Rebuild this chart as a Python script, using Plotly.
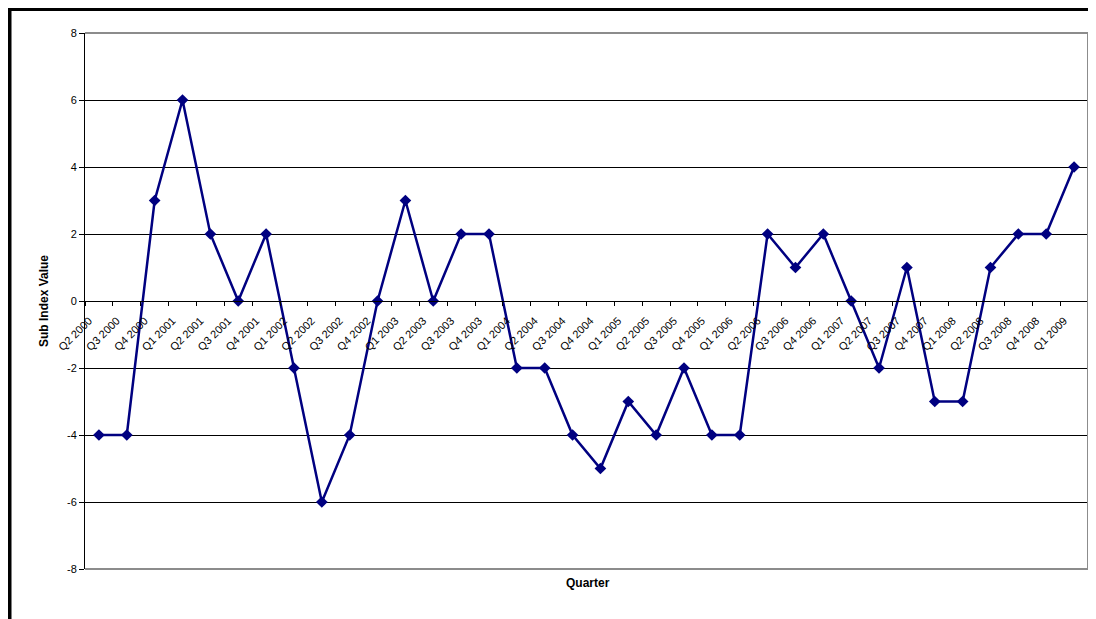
import plotly.graph_objects as go

quarters = ["Q2 2000", "Q3 2000", "Q4 2000", "Q1 2001", "Q2 2001", "Q3 2001", "Q4 2001",
            "Q1 2002", "Q2 2002", "Q3 2002", "Q4 2002", "Q1 2003", "Q2 2003", "Q3 2003",
            "Q4 2003", "Q1 2004", "Q2 2004", "Q3 2004", "Q4 2004", "Q1 2005", "Q2 2005",
            "Q3 2005", "Q4 2005", "Q1 2006", "Q2 2006", "Q3 2006", "Q4 2006", "Q1 2007",
            "Q2 2007", "Q3 2007", "Q4 2007", "Q1 2008", "Q2 2008", "Q3 2008", "Q4 2008",
            "Q1 2009"]
values = [-4, -4, 3, 6, 2, 0, 2, -2, -6, -4, 0, 3, 0, 2, 2, -2, -2, -4, -5, -3, -4,
          -2, -4, -4, 2, 1, 2, 0, -2, 1, -3, -3, 1, 2, 2, 4]
y_ticks = [-8, -6, -4, -2, 0, 2, 4, 6, 8]
y_ticktext = [str(v) for v in y_ticks]

OFF = 8  # page body margin
W, H = 1096 - OFF, 619 - OFF
L, T = 85 - OFF, 33 - OFF
R = W - (1088 - OFF)
B = H - (569 - OFF)
pw, ph = W - L - R, H - T - B

def px_x(p):
    return (p - OFF - L) / pw

def px_y(p):
    return (H - B - (p - OFF)) / ph

fig = go.Figure()
fig.add_trace(go.Scatter(
    x=quarters, y=values, mode="lines+markers",
    line=dict(color="#000080", width=2.5),
    marker=dict(symbol="diamond", size=9, color="#000080"),
    showlegend=False, cliponaxis=False,
))

fig.update_layout(
    width=W, height=H,
    margin=dict(l=L, r=R, t=T, b=B, autoexpand=False),
    paper_bgcolor="white", plot_bgcolor="white",
    font=dict(family="Liberation Sans, Arial", size=11, color="black"),
    xaxis=dict(
        type="category", categoryorder="array", categoryarray=quarters,
        range=[-0.5, len(quarters) - 0.5],
        anchor="free", position=0.5,
        showline=True, linecolor="black", linewidth=1,
        ticks="outside", ticklen=4, tickcolor="black", tickson="boundaries",
        tickangle=-45, tickfont=dict(size=11),
        ticklabelstandoff=8, ticklabelshift=-10,
        showgrid=False, zeroline=False, automargin=False,
    ),
    yaxis=dict(
        range=[-8, 8], tickvals=y_ticks, ticktext=y_ticktext,
        showline=True, linecolor="black", linewidth=1,
        ticks="outside", ticklen=5, tickcolor="black",
        showgrid=True, gridcolor="black", gridwidth=1,
        zeroline=False, tickfont=dict(size=11), automargin=False,
    ),
    shapes=[
        dict(type="line", xref="paper", yref="paper", x0=0, x1=1, y0=1, y1=1,
             line=dict(color="#8c8c8c", width=2), layer="above"),
        dict(type="line", xref="paper", yref="paper", x0=1, x1=1, y0=0, y1=1,
             line=dict(color="#8c8c8c", width=2), layer="above"),
        dict(type="line", xref="paper", yref="paper", x0=0, x1=1, y0=0, y1=0,
             line=dict(color="#8c8c8c", width=2), layer="above"),
        dict(type="rect", xref="paper", yref="paper",
             x0=px_x(9.5), x1=px_x(1120), y0=px_y(640), y1=px_y(9),
             line=dict(color="black", width=4), layer="above"),
    ],
    annotations=[
        dict(text="<b>Quarter</b>", xref="paper", yref="paper",
             x=px_x(588), y=px_y(592), showarrow=False, font=dict(size=12)),
        dict(text="<b>Sub Index Value</b>", xref="paper", yref="paper",
             x=px_x(35), y=px_y(301), showarrow=False, textangle=-90,
             font=dict(size=12)),
    ],
)

fig.write_html("out.html")
